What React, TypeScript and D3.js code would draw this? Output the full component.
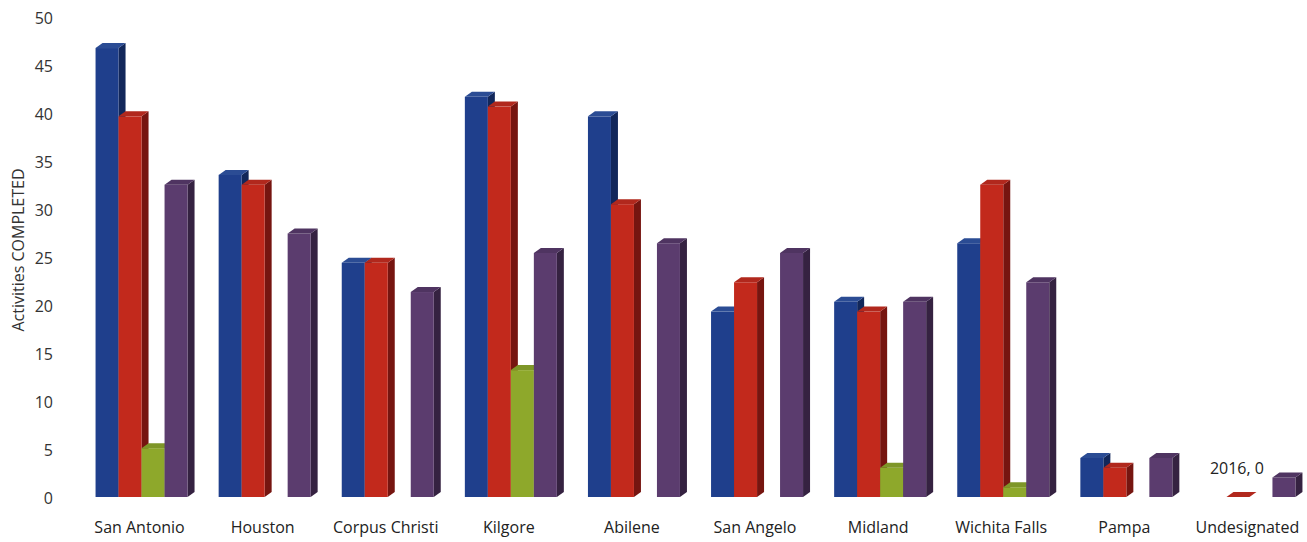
import React from 'react';
import * as d3 from 'd3';

// categories along the bottom
const regions = [
    'San Antonio', 'Houston', 'Corpus Christi', 'Kilgore', 'Abilene',
    'San Angelo', 'Midland', 'Wichita Falls', 'Pampa', 'Undesignated'
];

// one array per series, null = no bar
const s2015: (number | null)[] = [46, 33, 24, 41, 39, 19, 20, 26, 4, null];
const s2016: (number | null)[] = [39, 32, 24, 40, 30, 22, 19, 32, 3, 0];
const s2017: (number | null)[] = [5, null, null, 13, null, null, 3, 1, null, null];
const sAvg: (number | null)[] = [32, 27, 21, 25, 26, 25, 20, 22, 4, 2];

const seriesNames = ['2015', '2016', '2017', 'Average'];
const seriesValues = [s2015, s2016, s2017, sAvg];

const yTicks = [0, 5, 10, 15, 20, 25, 30, 35, 40, 45, 50];

const colors = [
    { front: '#1f3f8c', side: '#12275a', top: '#2b4c94' },
    { front: '#c2291c', side: '#761510', top: '#b1281d' },
    { front: '#8ea82b', side: '#5a6b19', top: '#7e9628' },
    { front: '#5b3c6e', side: '#352241', top: '#4f3461' }
];

const W = 1307;
const H = 542;
const barW = 23;
const dx = 7;
const dy = -5;

const App: React.FC = () => {
    const x = d3.scaleBand<string>().domain(regions).range([80, 1311]).padding(0);
    const x1 = d3.scaleBand<string>().domain(seriesNames).range([0, barW * 4]);
    const groupOffset = (x.bandwidth() - barW * 4) / 2;

    // axis labels sit on the back wall, bars on the front plane
    const yAxis = d3.scaleLinear().domain([0, 50]).range([498, 18]);
    const yBar = d3.scaleLinear().domain([0, 50]).range([497, 9]);

    const bars: React.ReactNode[] = [];
    regions.forEach((r, i) => {
        seriesNames.forEach((name, j) => {
            const v = seriesValues[j][i];
            if (v === null || v === undefined) return;
            const x0 = (x(r) ?? 0) + groupOffset + (x1(name) ?? 0);
            const yt = yBar(v);
            const yb = yBar(0);
            const c = colors[j];
            const side = `${x0 + barW},${yt} ${x0 + barW + dx},${yt + dy} ${x0 + barW + dx},${yb + dy} ${x0 + barW},${yb}`;
            const top = `${x0},${yt} ${x0 + dx},${yt + dy} ${x0 + barW + dx},${yt + dy} ${x0 + barW},${yt}`;
            bars.push(
                <g key={`${r}-${name}`}>
                    <polygon points={side} fill={c.side} />
                    {v > 0 && <rect x={x0} y={yt} width={barW} height={yb - yt} fill={c.front} />}
                    <polygon points={top} fill={c.top} />
                </g>
            );
        });
    });

    // the one data label in the picture
    const ui = regions.length - 1;
    const labelX = (x(regions[ui]) ?? 0) + groupOffset + (x1('2016') ?? 0) + barW / 2 - 1;
    const labelY = yBar(0) - 29;

    return (
        <svg width={W} height={H} style={{ position: 'fixed', left: 0, top: 0, background: '#fff', display: 'block' }}
            fontFamily="'Open Sans', sans-serif">
            <rect width={W} height={H} fill="#fff" />
            {yTicks.map(t => (
                <text key={t} x={53} y={yAxis(t)} dy="0.35em" textAnchor="end" fontSize={16} fill="#333">{t}</text>
            ))}
            <text transform={`translate(18,250) rotate(-90)`} textAnchor="middle" dy="0.35em" fontSize={16} fill="#333">
                Activities COMPLETED
            </text>
            {bars}
            {regions.map(r => (
                <text key={r} x={(x(r) ?? 0) + x.bandwidth() / 2 - 2} y={527} dy="0.35em" textAnchor="middle" fontSize={16} fill="#222">{r}</text>
            ))}
            <text x={labelX} y={labelY} dy="0.35em" textAnchor="middle" fontSize={16} fill="#222">2016, 0</text>
        </svg>
    );
};

export default App;
